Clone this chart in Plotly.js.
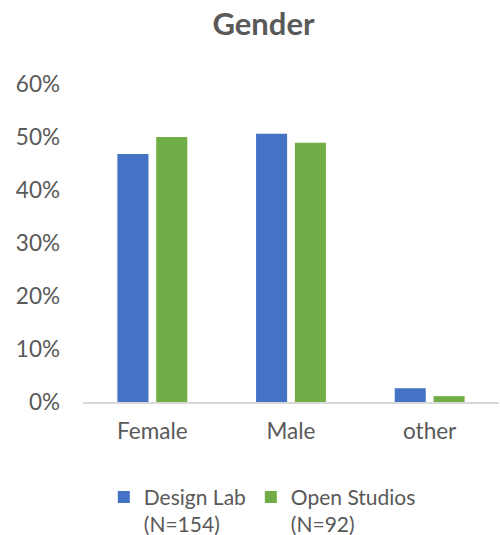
<!DOCTYPE html>
<html>
<head>
<meta charset="utf-8">
<script src="https://cdn.plot.ly/plotly-3.0.1.min.js"></script>
<style>html,body{margin:0;padding:0;background:#fff;}#chart{width:500px;height:535px;}</style>
</head>
<body>
<div id="chart"></div>
<script>
const categories = ["Female", "Male", "other"];
const seriesNames = ["Design Lab<br>(N=154)", "Open Studios<br>(N=92)"];
const designLab = [0.468, 0.506, 0.026];
const openStudios = [0.500, 0.489, 0.011];
const yTicks = [0, 0.1, 0.2, 0.3, 0.4, 0.5, 0.6];

const FONT = "Lato, 'Open Sans', sans-serif";
const traces = [
  {type: "bar", name: seriesNames[0], x: categories, y: designLab, marker: {color: "#4472C4"}, hoverinfo: "y"},
  {type: "bar", name: seriesNames[1], x: categories, y: openStudios, marker: {color: "#70AD47"}, hoverinfo: "y"}
];
const layout = {
  width: 500, height: 535,
  margin: {l: 83, r: 1, t: 84, b: 133, autoexpand: false},
  paper_bgcolor: "#fff", plot_bgcolor: "#fff",
  font: {family: FONT, color: "#595959", size: 22},
  title: {text: "<b>Gender</b>", font: {family: FONT, size: 31, color: "#595959"}, x: 0.527, xanchor: "center", y: 0.955, yanchor: "middle", yref: "container"},
  barmode: "group", bargap: 0.44, bargroupgap: 0.2,
  xaxis: {type: "category", showgrid: false, showline: true, linecolor: "#d9d9d9", linewidth: 1.5, ticks: "", tickfont: {size: 22.5, color: "#595959"}, ticklabelstandoff: 8, zeroline: false, automargin: false},
  yaxis: {range: [0, 0.6], tickvals: yTicks, tickformat: ".0%", showgrid: false, zeroline: false, showline: false, ticks: "", tickfont: {size: 22.5, color: "#595959"}, ticklabelstandoff: 22, automargin: false},
  showlegend: true,
  legend: {orientation: "h", x: 0.05, xanchor: "left", y: -0.235, yanchor: "top", valign: "top", font: {size: 21, color: "#595959"}, itemwidth: 30, traceorder: "normal"}
};
Plotly.newPlot("chart", traces, layout, {displayModeBar: false, staticPlot: true});
</script>
</body>
</html>
